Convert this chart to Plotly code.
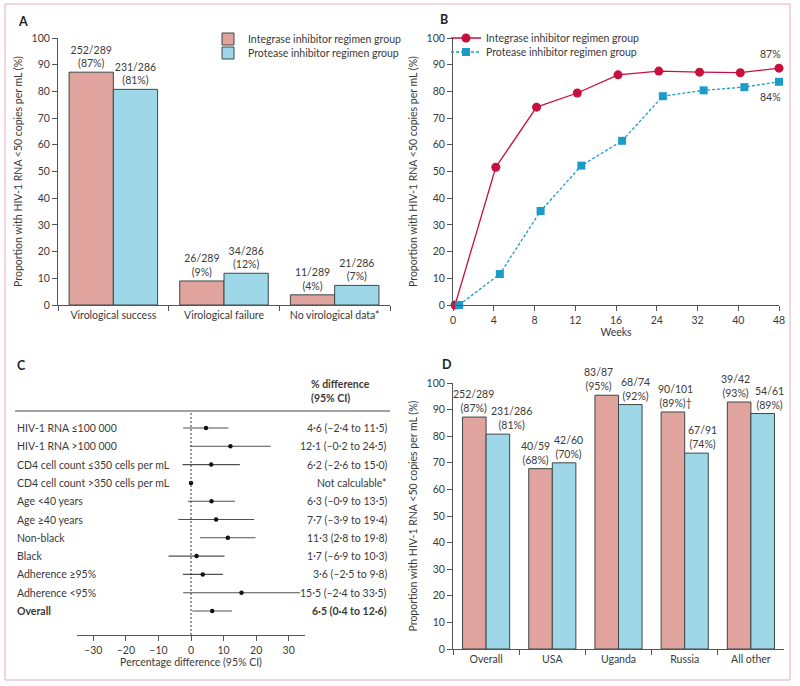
import numpy as np
import plotly.graph_objects as go

# ---------------- data ----------------
# Panel A
a_categories = ["Virological success", "Virological failure", "No virological data*"]
a_int_n = [252, 26, 11]
a_int_d = [289, 289, 289]
a_pro_n = [231, 34, 21]
a_pro_d = [286, 286, 286]

# Panel B
b_weeks = [0, 4, 8, 12, 16, 24, 32, 40, 48]
b_tick_labels = ["0", "4", "8", "12", "16", "24", "32", "40", "48"]
b_integrase = [0, 51.6, 74.1, 79.4, 86.2, 87.6, 87.2, 87.0, 88.7]
b_protease = [0, 11.6, 35.2, 52.2, 61.5, 78.2, 80.4, 81.6, 83.6]
b_end_labels = ["87%", "84%"]

# Panel C
c_labels = ["HIV-1 RNA ≤100 000", "HIV-1 RNA >100 000", "CD4 cell count ≤350 cells per mL",
            "CD4 cell count >350 cells per mL", "Age <40 years", "Age ≥40 years", "Non-black",
            "Black", "Adherence ≥95%", "Adherence <95%", "Overall"]
c_est = [4.6, 12.1, 6.2, 0.0, 6.3, 7.7, 11.3, 1.7, 3.6, 15.5, 6.5]
c_lo = [-2.4, -0.2, -2.6, 0.0, -0.9, -3.9, 2.8, -6.9, -2.5, -2.4, 0.4]
c_hi = [11.5, 24.5, 15.0, 0.0, 13.5, 19.4, 19.8, 10.3, 9.8, 33.5, 12.6]
c_text = ["4·6 (–2·4 to 11·5)", "12·1 (–0·2 to 24·5)", "6·2 (–2·6 to 15·0)", "Not calculable*",
          "6·3 (–0·9 to 13·5)", "7·7 (–3·9 to 19·4)", "11·3 (2·8 to 19·8)", "1·7 (–6·9 to 10·3)",
          "3·6 (–2·5 to 9·8)", "15·5 (–2·4 to 33·5)", "6·5 (0·4 to 12·6)"]
c_ticks = [-30, -20, -10, 0, 10, 20, 30]

# Panel D
d_categories = ["Overall", "USA", "Uganda", "Russia", "All other"]
d_int_n = [252, 40, 83, 90, 39]
d_int_d = [289, 59, 87, 101, 42]
d_int_suffix = ["", "", "", "†", ""]
d_pro_n = [231, 42, 68, 67, 54]
d_pro_d = [286, 60, 74, 91, 61]

# ---------------- style ----------------
FONT = "Lato"
TXT = "#3a3a3a"
PINK = "#e0a39e"
BLUE = "#9dd7e8"
EDGE = "#3d4848"
RED = "#c8103e"
TEAL = "#1b9cc8"
FS = 10.5
W, H = 800, 686
D_BAR_W = 0.356
D_LABEL_DX_INT = [-1, -5, -8, 3, -4]   # px nudges of the D labels
D_LABEL_DX_PRO = [14, 4, 5, 6, 7]


def px(x):
    return x / W


def py(y):
    return 1 - y / H


def pct(n, d):
    return [100 * a / b for a, b in zip(n, d)]


def bar_text(n, d, suffix=None):
    suffix = suffix or [""] * len(n)
    return [f"{a}/{b}<br>({round(100 * a / b)}%){s}" for a, b, s in zip(n, d, suffix)]


fig = go.Figure()
bar_common = dict(marker_line_color=EDGE, marker_line_width=1, cliponaxis=False)

# Panel A
fig.add_trace(go.Bar(x=a_categories, y=pct(a_int_n, a_int_d), text=bar_text(a_int_n, a_int_d),
                     textposition="outside", constraintext="none",
                     textfont=dict(family=FONT, size=FS, color=TXT),
                     name="Integrase inhibitor regimen group", marker_color=PINK,
                     xaxis="x", yaxis="y", legend="legend", **bar_common))
fig.add_trace(go.Bar(x=a_categories, y=pct(a_pro_n, a_pro_d), text=bar_text(a_pro_n, a_pro_d),
                     textposition="outside", constraintext="none",
                     textfont=dict(family=FONT, size=FS, color=TXT),
                     name="Protease inhibitor regimen group", marker_color=BLUE,
                     xaxis="x", yaxis="y", legend="legend3", **bar_common))

# Panel B
b_pos = np.interp(b_weeks, b_weeks, np.arange(len(b_weeks)))
fig.add_trace(go.Scatter(x=np.clip(b_pos + 0.05, 0, 8), y=b_integrase, mode="lines+markers",
                         name="Integrase inhibitor regimen group",
                         line=dict(color=RED, width=1.3),
                         marker=dict(symbol="circle", size=9, color=RED),
                         cliponaxis=False, xaxis="x2", yaxis="y2", legend="legend2"))
fig.add_trace(go.Scatter(x=np.clip(b_pos + 0.15, 0, 8), y=b_protease, mode="lines+markers",
                         name="Protease inhibitor regimen group",
                         line=dict(color=TEAL, width=1.3, dash="3px,2px"),
                         marker=dict(symbol="square", size=8, color=TEAL),
                         cliponaxis=False, xaxis="x2", yaxis="y2", legend="legend4"))

# Panel C
c_rows = list(range(len(c_labels)))
fig.add_trace(go.Scatter(x=c_est, y=c_rows, mode="markers",
                         marker=dict(color="#111111", size=4.5),
                         error_x=dict(type="data", symmetric=False,
                                      array=[h - e for h, e in zip(c_hi, c_est)],
                                      arrayminus=[e - l for e, l in zip(c_est, c_lo)],
                                      width=0, thickness=1.1, color="#505050"),
                         showlegend=False, cliponaxis=False, xaxis="x3", yaxis="y3"))

# Panel D
d_int_v = pct(d_int_n, d_int_d)
d_pro_v = pct(d_pro_n, d_pro_d)
fig.add_trace(go.Bar(x=d_categories, y=d_int_v, marker_color=PINK, showlegend=False,
                     width=D_BAR_W, offset=-D_BAR_W, xaxis="x4", yaxis="y4", **bar_common))
fig.add_trace(go.Bar(x=d_categories, y=d_pro_v, marker_color=BLUE, showlegend=False,
                     width=D_BAR_W, offset=0, xaxis="x4", yaxis="y4", **bar_common))

axis_common = dict(showline=True, linecolor="#555555", linewidth=1, ticks="outside",
                   ticklen=5, tickcolor="#555555", showgrid=False, zeroline=False,
                   tickfont=dict(family=FONT, size=FS, color=TXT), automargin=False)
ytitle = dict(text="Proportion with HIV-1 RNA <50 copies per mL (%)",
              font=dict(family=FONT, size=FS, color=TXT), standoff=6)
leg_common = dict(xanchor="left", yanchor="middle", bgcolor="rgba(0,0,0,0)",
                  font=dict(family=FONT, size=FS, color=TXT), itemwidth=30)

fig.update_layout(
    width=W, height=H, margin=dict(l=0, r=0, t=0, b=0), autosize=False,
    paper_bgcolor="white", plot_bgcolor="rgba(0,0,0,0)",
    barmode="group", bargap=0.2, bargroupgap=0,
    font=dict(family=FONT, size=FS, color=TXT),
    xaxis=dict(domain=[px(58), px(390)], anchor="y", range=[-0.5, 2.5], tickson="boundaries",
               **axis_common),
    yaxis=dict(domain=[py(305), py(38)], anchor="x", range=[0, 100], dtick=10, title=ytitle,
               **axis_common),
    xaxis2=dict(domain=[px(453), px(779)], anchor="y2", range=[0, 8],
                tickmode="array", tickvals=list(b_pos), ticktext=b_tick_labels,
                title=dict(text="Weeks", font=dict(family=FONT, size=FS, color=TXT), standoff=2),
                **axis_common),
    yaxis2=dict(domain=[py(305), py(38)], anchor="x2", range=[0, 100], dtick=10, title=ytitle,
                **axis_common),
    xaxis3=dict(domain=[px(77), px(305)], anchor="y3", range=[-35, 35],
                tickmode="array", tickvals=c_ticks,
                ticktext=[f"{t}".replace("-", "–") for t in c_ticks],
                title=dict(text="Percentage difference (95% CI)",
                           font=dict(family=FONT, size=FS, color=TXT), standoff=2),
                **axis_common),
    yaxis3=dict(domain=[py(635), py(411)], anchor="x3", range=[11.31, -0.93], visible=False),
    xaxis4=dict(domain=[px(453), px(784)], anchor="y4", range=[-0.5, 4.5], tickson="boundaries",
                **axis_common),
    yaxis4=dict(domain=[py(649), py(383)], anchor="x4", range=[0, 100], dtick=10,
                title=ytitle, **axis_common),
    legend=dict(x=px(208), y=py(39), **leg_common),
    legend3=dict(x=px(208), y=py(53), **leg_common),
    legend2=dict(x=px(446), y=py(38), **leg_common),
    legend4=dict(x=px(446), y=py(52), **leg_common),
)

shapes = [
    dict(type="rect", xref="paper", yref="paper", x0=px(5), x1=px(790), y0=py(680), y1=py(4),
         line=dict(color="#e8a8bc", width=1)),
    dict(type="line", xref="paper", yref="paper", x0=px(15), x1=px(390), y0=py(411), y1=py(411),
         line=dict(color="#444444", width=1)),
    dict(type="line", xref="x3", yref="y3 domain", x0=0, x1=0, y0=0, y1=1,
         line=dict(color="#333333", width=1, dash="2px,2px")),
]
fig.update_layout(shapes=shapes)

ann = []
for lab, x, y in [("A", 16, 21), ("B", 438, 20), ("C", 15, 365), ("D", 440, 364)]:
    ann.append(dict(text=f"<b>{lab}</b>", xref="paper", yref="paper", x=px(x), y=py(y),
                    xanchor="left", yanchor="middle", showarrow=False,
                    font=dict(family=FONT, size=12.5, color="#222222")))
# B end labels
for lab, val, shift in [(b_end_labels[0], b_integrase[-1], 14),
                        (b_end_labels[1], b_protease[-1], -15)]:
    ann.append(dict(text=lab, xref="x2", yref="y2", x=8, y=val, xanchor="right",
                    yanchor="middle", yshift=shift, xshift=4, showarrow=False,
                    font=dict(family=FONT, size=FS, color=TXT)))
# C header and rows
ann.append(dict(text="<b>% difference</b><br><b>(95% CI)</b>", xref="paper", yref="paper",
                x=px(309), y=py(391), xanchor="left", yanchor="middle", align="left",
                showarrow=False, font=dict(family=FONT, size=FS, color=TXT)))
for i, (lab, txt) in enumerate(zip(c_labels, c_text)):
    bold = lab == "Overall"
    ann.append(dict(text=f"<b>{lab}</b>" if bold else lab, xref="paper", yref="y3", x=px(15), y=i,
                    xanchor="left", yanchor="middle", showarrow=False,
                    font=dict(family=FONT, size=FS, color=TXT)))
    ann.append(dict(text=f"<b>{txt}</b>" if bold else txt, xref="paper", yref="y3", x=px(389),
                    y=i, xanchor="right", yanchor="middle", showarrow=False,
                    font=dict(family=FONT, size=FS, color=TXT)))
# D bar labels
bar_px = D_BAR_W * (784 - 453) / 5
for i, (ti, tp) in enumerate(zip(bar_text(d_int_n, d_int_d, d_int_suffix), bar_text(d_pro_n, d_pro_d))):
    ann.append(dict(text=ti, xref="x4", yref="y4", x=i, y=d_int_v[i], xanchor="center",
                    yanchor="bottom", yshift=1, xshift=-bar_px / 2 + D_LABEL_DX_INT[i],
                    showarrow=False, font=dict(family=FONT, size=FS, color=TXT)))
    ann.append(dict(text=tp, xref="x4", yref="y4", x=i, y=d_pro_v[i], xanchor="center",
                    yanchor="bottom", yshift=1, xshift=bar_px / 2 + D_LABEL_DX_PRO[i],
                    showarrow=False, font=dict(family=FONT, size=FS, color=TXT)))
fig.update_layout(annotations=ann)

fig.write_html("out.html", config={"displayModeBar": False},
               post_script="document.body.style.margin='0';")
